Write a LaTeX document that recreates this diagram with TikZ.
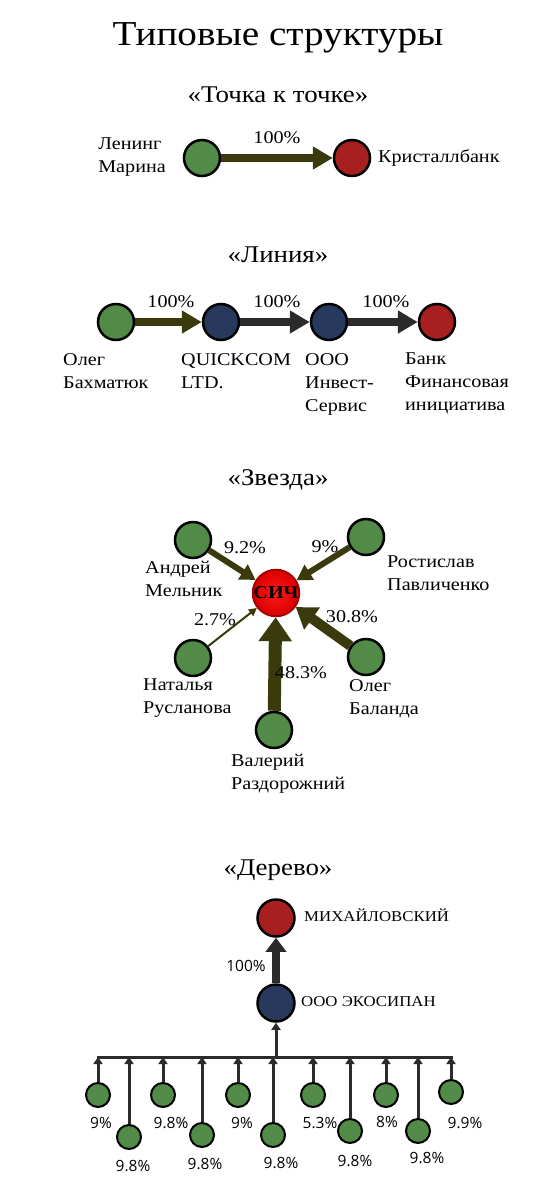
\documentclass[tikz,border=0pt]{standalone}
\usepackage{fontspec}
\setmainfont{Liberation Serif}[FakeStretch=1.12]
\newfontfamily\tsans{Open Sans}
\usetikzlibrary{arrows.meta}
\definecolor{cgreen}{HTML}{528A48}
\definecolor{cred}{HTML}{A81F1F}
\definecolor{cblue}{HTML}{273A5E}
\definecolor{colive}{HTML}{3A3A0C}
\definecolor{cgrey}{HTML}{2B2B2B}
\tikzset{
  ent/.style={circle,draw=black,line width=2.5pt,minimum size=36pt,inner sep=0pt},
  gnode/.style={ent,fill=cgreen},
  rnode/.style={ent,fill=cred},
  bnode/.style={ent,fill=cblue},
  leaf/.style={circle,draw=black,line width=2pt,minimum size=24pt,inner sep=0pt,fill=cgreen},
  lbl/.style={font=\fontsize{18}{23}\selectfont,align=left,inner sep=0pt},
  pct/.style={font=\fontsize{18}{22}\selectfont,inner sep=0pt},
  spct/.style={font=\tsans\fontsize{15.5}{18}\selectfont,inner sep=0pt},
  head/.style={font=\fontsize{24}{28}\selectfont,inner sep=0pt},
  fatarrow/.style={draw=#1,line width=8pt,-{Triangle[length=20pt,width=22pt]}},
  treearrow/.style={draw=cgrey,line width=3pt,-{Triangle[length=7pt,width=9pt]}},
}
\begin{document}
\begin{tikzpicture}[x=1pt,y=-1pt]
\useasboundingbox[fill=white] (0,0) rectangle (556,1194);
\node[inner sep=0pt,font=\fontsize{35}{42}\selectfont] (title) at (278,38) {Типовые структуры};
% point to point
\node[head] (h1) at (278,95) {«Точка к точке»};
\node[gnode] (p1) at (202,158) {};
\node[rnode] (p2) at (352,158) {};
\draw[fatarrow=colive] (p1) -- (p2);
\node[pct] (p1p) at (277,138) {100\%};
\node[lbl,anchor=east,align=left] (p1l) at (166,157) {Ленинг\\Марина};
\node[lbl,anchor=west] (p2l) at (378,158) {Кристаллбанк};
% line
\node[head] (h2) at (278,255) {«Линия»};
\node[gnode] (l1) at (116,322) {};
\node[bnode] (l2) at (221,322) {};
\node[bnode] (l3) at (329,322) {};
\node[rnode] (l4) at (437,322) {};
\draw[fatarrow=colive] (l1) -- (l2);
\draw[fatarrow=cgrey] (l2) -- (l3);
\draw[fatarrow=cgrey] (l3) -- (l4);
\node[pct] (l1p) at (171,302) {100\%};
\node[pct] (l2p) at (277,302) {100\%};
\node[pct] (l3p) at (386,302) {100\%};
\node[lbl,anchor=north west] (l1l) at (63,353) {Олег\\Бахматюк};
\node[lbl,anchor=north west] (l2l) at (181,353) {QUICKCOM\\LTD.};
\node[lbl,anchor=north west] (l3l) at (305,353) {ООО\\Инвест-\\Сервис};
\node[lbl,anchor=north west] (l4l) at (405,353) {Банк\\Финансовая\\инициатива};
% star
\node[head] (h3) at (278,480) {«Звезда»};
\node[circle,draw=red!65!black,line width=2pt,minimum size=33pt,inner sep=0pt,inner color=red!90!white,outer color=red!85!black,font=\bfseries\fontsize{18}{20}\selectfont] (c) at (276,593) {СИЧ};
\node[gnode] (s1) at (193,540) {};
\node[gnode] (s2) at (366,537) {};
\node[gnode] (s3) at (193,658) {};
\node[gnode] (s4) at (366,657) {};
\node[gnode] (s5) at (274,730) {};
\draw[draw=colive,line width=6pt,-{Triangle[length=15pt,width=17pt]}] (s1) -- (c);
\draw[draw=colive,line width=6pt,-{Triangle[length=15pt,width=17pt]}] (s2) -- (c);
\draw[draw=colive,line width=2pt,-{Triangle[length=8pt,width=8pt]}] (s3) -- (c);
\draw[draw=colive,line width=10pt,-{Triangle[length=20pt,width=26pt]}] (s4) -- (c);
\draw[draw=colive,line width=13pt,-{Triangle[length=24pt,width=32pt]}] (s5) -- (c);
\node[pct] (s1p) at (245,548) {9.2\%};
\node[pct] (s2p) at (325,547) {9\%};
\node[pct] (s3p) at (215,620) {2.7\%};
\node[pct] (s4p) at (352,617) {30.8\%};
\node[pct] (s5p) at (301,673) {48.3\%};
\node[lbl,anchor=north west] (s1l) at (145,561) {Андрей\\Мельник};
\node[lbl,anchor=north west] (s2l) at (387,556) {Ростислав\\Павличенко};
\node[lbl,anchor=north west] (s3l) at (143,679) {Наталья\\Русланова};
\node[lbl,anchor=north west] (s4l) at (349,679) {Олег\\Баланда};
\node[lbl,anchor=north west] (s5l) at (231,754) {Валерий\\Раздорожний};
% tree
\node[head] (h4) at (278,870) {«Дерево»};
\node[rnode,minimum size=37pt] (t1) at (276,918) {};
\node[bnode,minimum size=37pt] (t2) at (276,1003) {};
\draw[draw=cgrey,line width=8pt,-{Triangle[length=14pt,width=20pt]}] (t2) -- (t1);
\node[font=\fontsize{15}{18}\selectfont,anchor=west,inner sep=0pt] (t1l) at (304,915) {МИХАЙЛОВСКИЙ};
\node[font=\fontsize{15}{18}\selectfont,anchor=west,inner sep=0pt] (t2l) at (301,1002) {ООО ЭКОСИПАН};
\node[spct] (t2p) at (246,966) {100\%};
\coordinate (busL) at (97,1057);
\coordinate (busR) at (453,1057);
\coordinate (busM) at (276,1057);
\draw[draw=cgrey,line width=3pt] (busL) -- (busR);
\draw[treearrow] (busM) -- (t2);
\foreach \i/\x/\y/\lx/\ly/\t in {
 1/98/1095/101/1123/9\%,
 2/129/1137/133/1166/9.8\%,
 3/163/1095/171/1123/9.8\%,
 4/202/1135/205/1164/9.8\%,
 5/238/1095/242/1123/9\%,
 6/273/1135/281/1163/9.8\%,
 7/313/1095/320/1123/5.3\%,
 8/350/1131/355/1161/9.8\%,
 9/386/1095/387/1122/8\%,
 10/418/1131/427/1158/9.8\%,
 11/451/1092/465/1123/9.9\%}{
  \node[leaf] (lf\i) at (\x,\y) {};
  \coordinate (bj\i) at (\x,1057);
  \draw[treearrow] (lf\i.north) -- (bj\i);
  \node[spct] (lfp\i) at (\lx,\ly) {\t};
}
\end{tikzpicture}
\end{document}
